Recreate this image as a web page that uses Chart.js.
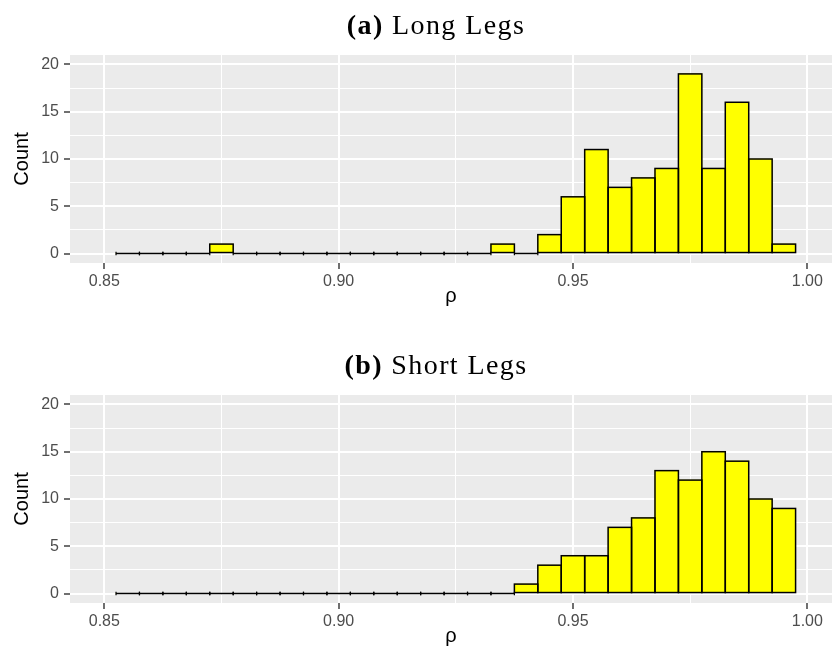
<!DOCTYPE html>
<html>
<head>
<meta charset="utf-8">
<script src="https://cdn.jsdelivr.net/npm/chart.js@4/dist/chart.umd.min.js"></script>
<style>
  html, body { margin: 0; padding: 0; background: #fff; overflow: hidden; width: 833px; height: 652px; }
  .panel { position: absolute; left: 0; width: 833px; height: 326px; }
  .panel canvas { position: absolute; left: 0; top: 0; }
  .ttl { position: absolute; left: 0; top: 9px; width: 872px; text-align: center;
         font-family: "Liberation Serif", "DejaVu Serif", serif; font-size: 28px; line-height: 32px;
         letter-spacing: 1.4px; color: #000; }
  .ttl b { font-weight: bold; }
</style>
</head>
<body>
<div class="panel" style="top:0px">
  <canvas id="longLegs" width="833" height="326"></canvas>
  <div class="ttl"><b>(a)</b> Long Legs</div>
</div>
<div class="panel" style="top:340px">
  <canvas id="shortLegs" width="833" height="326"></canvas>
  <div class="ttl"><b>(b)</b> Short Legs</div>
</div>
<script>
// Histogram bin centres (bin width 0.005)
const binCenters = [0.855, 0.860, 0.865, 0.870, 0.875, 0.880, 0.885, 0.890, 0.895, 0.900,
                    0.905, 0.910, 0.915, 0.920, 0.925, 0.930, 0.935, 0.940, 0.945, 0.950,
                    0.955, 0.960, 0.965, 0.970, 0.975, 0.980, 0.985, 0.990, 0.995];

// Counts per bin
const longLegCounts  = [0, 0, 0, 0, 1, 0, 0, 0, 0, 0, 0, 0, 0, 0, 0, 0, 1, 0, 2, 6, 11, 7, 8, 9, 19, 9, 16, 10, 1];
const shortLegCounts = [0, 0, 0, 0, 0, 0, 0, 0, 0, 0, 0, 0, 0, 0, 0, 0, 0, 1, 3, 4, 4, 7, 8, 13, 12, 15, 14, 10, 9];

// Axis breaks
const xMajorTicks = [0.85, 0.90, 0.95, 1.00];
const xMinorTicks = [0.875, 0.925, 0.975];
const yMajorTicks = [0, 5, 10, 15, 20];
const yMinorTicks = [2.5, 7.5, 12.5, 17.5];

const near = (list, v) => list.some(m => Math.abs(m - v) < 1e-9);

// grey panel background
const panelBg = {
  id: 'panelBg',
  beforeDraw(chart) {
    const { ctx, chartArea: a } = chart;
    ctx.save();
    ctx.fillStyle = '#EBEBEB';
    ctx.fillRect(a.left, a.top, a.right - a.left, a.bottom - a.top);
    ctx.restore();
  }
};

// black outline around every bin; empty bins collapse to a line with small corner nubs
const barOutline = {
  id: 'barOutline',
  afterDatasetsDraw(chart) {
    const ctx = chart.ctx;
    const meta = chart.getDatasetMeta(0);
    ctx.save();
    ctx.strokeStyle = '#000000';
    ctx.lineWidth = 1.5;
    meta.data.forEach(el => {
      const p = el.getProps(['x', 'y', 'base', 'width'], true);
      const left = p.x - p.width / 2;
      ctx.strokeRect(left, p.y, p.width, p.base - p.y);
      if (Math.abs(p.base - p.y) < 0.5) {
        ctx.beginPath();
        ctx.moveTo(left, p.base - 1.8); ctx.lineTo(left, p.base + 1.8);
        ctx.moveTo(left + p.width, p.base - 1.8); ctx.lineTo(left + p.width, p.base + 1.8);
        ctx.lineWidth = 1.2;
        ctx.stroke();
        ctx.lineWidth = 1.5;
      }
    });
    ctx.restore();
  }
};

const tickFont = { family: 'Liberation Sans', size: 16 };
const titleFont = { family: 'Liberation Sans', size: 20 };

function histogram(canvasId, counts) {
  return new Chart(document.getElementById(canvasId), {
    type: 'bar',
    data: {
      datasets: [{
        data: binCenters.map((c, i) => ({ x: c, y: counts[i] })),
        backgroundColor: '#FFFF00',
        borderWidth: 0,
        barPercentage: 1.0,
        categoryPercentage: 1.0
      }]
    },
    plugins: [panelBg, barOutline],
    options: {
      responsive: false,
      animation: false,
      layout: { padding: { top: 55, right: 1, left: 0, bottom: 0 } },
      plugins: { legend: { display: false }, tooltip: { enabled: false }, title: { display: false } },
      scales: {
        x: {
          type: 'linear',
          min: 0.84268,
          max: 1.00527,
          offset: false,
          afterBuildTicks: s => { s.ticks = [...xMajorTicks, ...xMinorTicks].sort((a, b) => a - b).map(v => ({ value: v })); },
          afterFit: s => { s.height = 63; },
          ticks: {
            autoSkip: false, maxRotation: 0, padding: 3,
            color: '#4D4D4D', font: tickFont,
            callback: v => near(xMajorTicks, v) ? v.toFixed(2) : ''
          },
          grid: {
            offset: false,
            color: '#FFFFFF',
            lineWidth: c => near(xMajorTicks, c.tick.value) ? 2 : 1,
            tickColor: c => near(xMajorTicks, c.tick.value) ? '#333333' : 'rgba(0,0,0,0)',
            tickLength: 6,
            tickWidth: 1.4
          },
          border: { display: false },
          title: { display: true, text: 'ρ', color: '#000000', font: titleFont, padding: { top: 0, bottom: 18 } }
        },
        y: {
          min: -1,
          max: 21,
          afterBuildTicks: s => { s.ticks = [...yMajorTicks, ...yMinorTicks].sort((a, b) => a - b).map(v => ({ value: v })); },
          afterFit: s => { s.width = 70; },
          ticks: {
            padding: 5,
            color: '#4D4D4D', font: tickFont,
            callback: v => near(yMajorTicks, v) ? String(v) : ''
          },
          grid: {
            color: '#FFFFFF',
            lineWidth: c => near(yMajorTicks, c.tick.value) ? 2 : 1,
            tickColor: c => near(yMajorTicks, c.tick.value) ? '#333333' : 'rgba(0,0,0,0)',
            tickLength: 6,
            tickWidth: 1.4
          },
          border: { display: false },
          title: { display: true, text: 'Count', color: '#000000', font: titleFont, padding: { top: 10, bottom: 0 } }
        }
      }
    }
  });
}

histogram('longLegs', longLegCounts);
histogram('shortLegs', shortLegCounts);
</script>
</body>
</html>
